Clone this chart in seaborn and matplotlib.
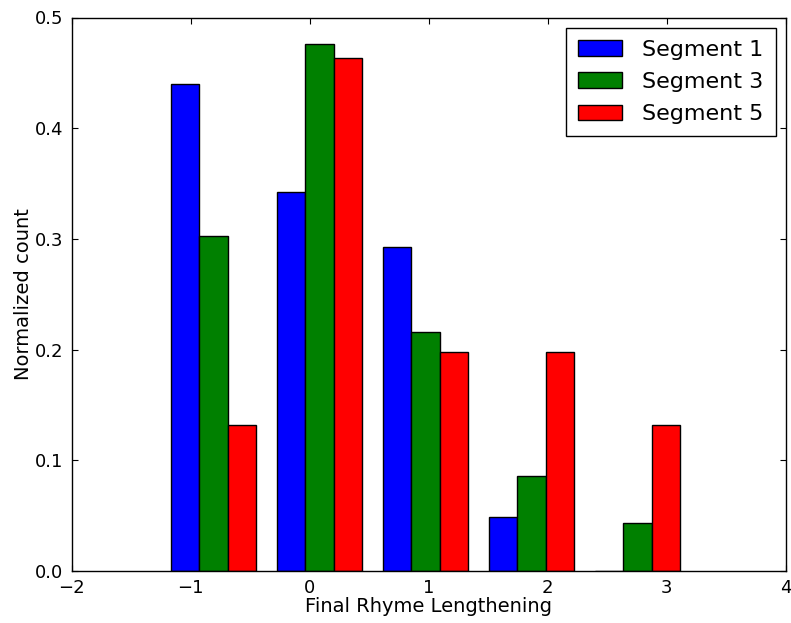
import matplotlib
matplotlib.use("Agg")
import matplotlib.pyplot as plt
import seaborn as sns
import pandas as pd

# bin centers of the histogram (Final Rhyme Lengthening)
bin_centers = [-0.808, 0.082, 0.972, 1.862, 2.752]
segments = ["Segment 1", "Segment 3", "Segment 5"]
seg1 = [0.440, 0.342, 0.293, 0.049, 0.000]
seg3 = [0.303, 0.476, 0.216, 0.086, 0.043]
seg5 = [0.132, 0.463, 0.198, 0.198, 0.132]
colors = ["#0000ff", "#008000", "#ff0000"]

rows = []
for name, vals in zip(segments, [seg1, seg3, seg5]):
    for c, v in zip(bin_centers, vals):
        rows.append({"x": c, "y": v, "seg": name})
df = pd.DataFrame(rows)

sns.set_style("white")
plt.rcParams.update({
    "xtick.direction": "in", "ytick.direction": "in",
    "xtick.top": True, "ytick.right": True,
    "xtick.bottom": True, "ytick.left": True,
    "xtick.major.size": 4, "ytick.major.size": 4,
    "xtick.major.width": 0.8, "ytick.major.width": 0.8,
    "axes.edgecolor": "black", "axes.linewidth": 1.0,
    "text.color": "black", "axes.labelcolor": "black",
    "xtick.color": "black", "ytick.color": "black",
    "font.family": ["DejaVu Sans"],
})

fig = plt.figure(figsize=(7.91, 6.23), dpi=100)
ax = fig.add_axes([71.5 / 791, 52 / 623, (786 - 71.5) / 791, (571 - 17.5) / 623])

sns.barplot(data=df, x="x", y="y", hue="seg", hue_order=segments,
            palette=colors, native_scale=True, width=0.8, gap=0,
            saturation=1, edgecolor="black", linewidth=1.0, errorbar=None, ax=ax)

ax.set_xlim(-2, 4)
ax.set_ylim(0, 0.5)
ax.set_xticks([-2, -1, 0, 1, 2, 3, 4])
ax.set_yticks([0.0, 0.1, 0.2, 0.3, 0.4, 0.5])
ax.set_yticklabels(["0.0", "0.1", "0.2", "0.3", "0.4", "0.5"])
ax.tick_params(labelsize=13, colors="black", pad=6)
ax.set_xlabel("Final Rhyme Lengthening", fontsize=14, labelpad=0)
ax.set_ylabel("Normalized count", fontsize=14, labelpad=1)
for s in ax.spines.values():
    s.set_visible(True)
    s.set_color("black")

sns.move_legend(ax, "upper right", title=None, fontsize=16, frameon=True,
                fancybox=False, framealpha=1, edgecolor="black",
                borderaxespad=0.45, labelspacing=0.55, borderpad=0.55,
                handletextpad=0.9)
leg = ax.get_legend()
leg.get_frame().set_linewidth(1.0)
for t in leg.get_texts():
    t.set_color("black")

fig.savefig("out.png", dpi=100)
